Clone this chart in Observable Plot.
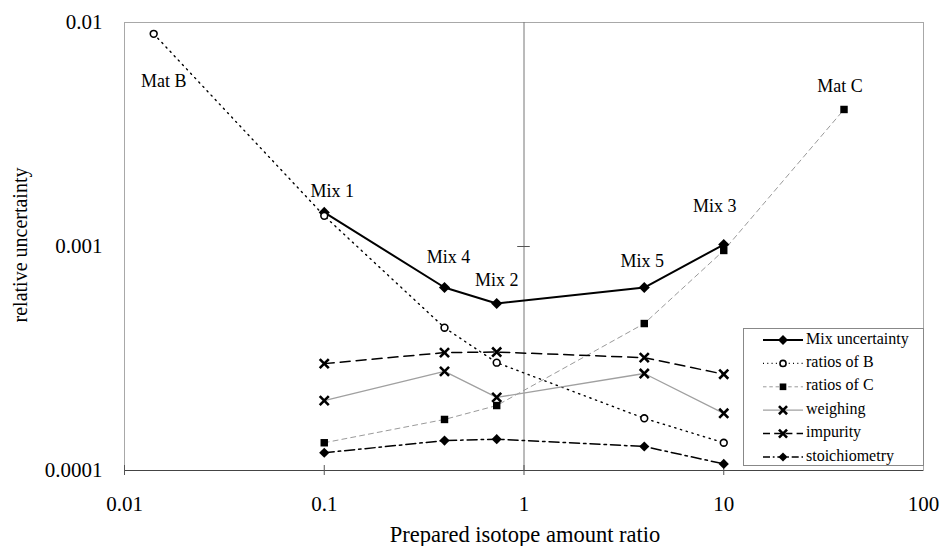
<!DOCTYPE html>
<html>
<head>
<meta charset="utf-8">
<script src="https://cdn.jsdelivr.net/npm/d3@7"></script>
<script src="https://cdn.jsdelivr.net/npm/@observablehq/plot@0.6"></script>
<style>
  html, body { margin: 0; padding: 0; background: #fff; }
  #chart { width: 942px; height: 546px; }
</style>
</head>
<body>
<div id="chart"></div>
<script>
// ---- data ----
const mixNames = ["Mix 1", "Mix 4", "Mix 2", "Mix 5", "Mix 3"];
const mixRatio = [0.1, 0.4, 0.73, 4, 10];
const matBRatio = 0.014;
const matCRatio = 40;

const mixUncertainty = [0.00142, 0.000656, 0.000557, 0.000656, 0.00102];
const ratiosB = [0.0089, 0.00137, 0.000434, 0.000303, 0.000171, 0.000133]; // Mat B + mixes
const ratiosC = [0.000133, 0.000169, 0.000195, 0.000453, 0.00096, 0.00409]; // mixes + Mat C
const weighing = [0.000205, 0.000277, 0.000212, 0.000271, 0.00018];
const impurity = [0.0003, 0.000336, 0.000338, 0.000319, 0.000269];
const stoichiometry = [0.00012, 0.000136, 0.000138, 0.000128, 0.000107];

const xTicks = [0.01, 0.1, 1, 10, 100];
const yTicks = [0.0001, 0.001, 0.01];

const seriesNames = ["Mix uncertainty", "ratios of B", "ratios of C", "weighing", "impurity", "stoichiometry"];

// ---- tables ----
const ratiosBX = [matBRatio, ...mixRatio];
const ratiosCX = [...mixRatio, matCRatio];
const toRows = (xs, ys) => xs.map((x, i) => ({x, y: ys[i]}));

const rowsMix = toRows(mixRatio, mixUncertainty);
const rowsB = toRows(ratiosBX, ratiosB);
const rowsC = toRows(ratiosCX, ratiosC);
const rowsW = toRows(mixRatio, weighing);
const rowsI = toRows(mixRatio, impurity);
const rowsS = toRows(mixRatio, stoichiometry);

const styles = [
  {stroke: "#000", width: 2, dash: null, symbol: "diamond2", fill: "#000", r: 5, sw: 0},
  {stroke: "#000", width: 1.4, dash: "1.3 4.7", symbol: "circle", fill: "#fff", r: 3.4, sw: 1.6},
  {stroke: "#9a9a9a", width: 1, dash: "5 4", symbol: "square", fill: "#000", r: 4.2, sw: 0},
  {stroke: "#a0a0a0", width: 1.3, dash: null, symbol: "times", fill: "none", r: 4.2, sw: 2.6},
  {stroke: "#000", width: 1.5, dash: "10 6", symbol: "times", fill: "none", r: 4.2, sw: 2.6},
  {stroke: "#000", width: 1.5, dash: "10 4 2.5 4", symbol: "diamond2", fill: "#000", r: 4.6, sw: 0}
];
const seriesRows = [rowsMix, rowsB, rowsC, rowsW, rowsI, rowsS];

// labels: name, anchor point, pixel offset
const pointLabels = [
  {text: "Mat B", x: matBRatio, y: ratiosB[0], dx: 10, dy: 47},
  {text: mixNames[0], x: mixRatio[0], y: mixUncertainty[0], dx: 8, dy: -21},
  {text: mixNames[1], x: mixRatio[1], y: mixUncertainty[1], dx: 4, dy: -30},
  {text: mixNames[2], x: mixRatio[2], y: mixUncertainty[2], dx: 0, dy: -23},
  {text: mixNames[3], x: mixRatio[3], y: mixUncertainty[3], dx: -2, dy: -26},
  {text: mixNames[4], x: mixRatio[4], y: mixUncertainty[4], dx: -9, dy: -38},
  {text: "Mat C", x: matCRatio, y: ratiosC[5], dx: -4, dy: -23}
];

const FONT = "Liberation Serif, Times New Roman, serif";

const marks = [
  Plot.frame({stroke: "#a8a8a8", strokeWidth: 1}),
  Plot.ruleY([yTicks[0]], {stroke: "#444", strokeWidth: 1.2}),
  Plot.ruleX([1], {stroke: "#777", strokeWidth: 1}),
  Plot.ruleY([0.001], {x1: 0.93, x2: 1.075, stroke: "#555", strokeWidth: 1}),
  Plot.ruleX(xTicks.slice(0, 4), {y1: yTicks[0], y2: yTicks[0], insetTop: -5, insetBottom: -5, stroke: "#555"}),
  Plot.axisX({ticks: xTicks, tickFormat: d => String(d), tickSize: 0, tickPadding: 26, fontSize: 21, label: null}),
  Plot.axisY({ticks: yTicks, tickFormat: d => String(d), tickSize: 0, tickPadding: 22, fontSize: 21, label: null}),
];

seriesRows.forEach((rows, k) => {
  const s = styles[k];
  marks.push(Plot.line(rows, {x: "x", y: "y", stroke: s.stroke, strokeWidth: s.width, strokeDasharray: s.dash}));
});
seriesRows.forEach((rows, k) => {
  const s = styles[k];
  marks.push(Plot.dot(rows, {x: "x", y: "y", symbol: s.symbol, r: s.r,
    fill: s.fill, stroke: s.sw ? "#000" : "none", strokeWidth: s.sw}));
});
pointLabels.forEach(l => {
  marks.push(Plot.text([l], {x: "x", y: "y", text: "text", dx: l.dx, dy: l.dy, fontSize: 18, fill: "#000"}));
});

const svg = Plot.plot({
  width: 942,
  height: 546,
  marginLeft: 124,
  marginRight: 19,
  marginTop: 22,
  marginBottom: 76,
  style: {fontFamily: FONT, color: "#000", background: "#fff"},
  x: {type: "log", domain: [0.01, 100]},
  y: {type: "log", domain: [0.0001, 0.01]},
  marks
});

// axis titles and legend
const g = d3.select(svg);
g.append("text").attr("x", 525).attr("y", 537).attr("text-anchor", "middle")
  .attr("dominant-baseline", "middle").attr("font-size", 22.5).attr("font-family", FONT)
  .text("Prepared isotope amount ratio");
g.append("text").attr("transform", "translate(22,245) rotate(-90)").attr("text-anchor", "middle")
  .attr("dominant-baseline", "middle").attr("font-size", 20).attr("font-family", FONT)
  .text("relative uncertainty");

const leg = g.append("g");
leg.append("rect").attr("x", 743.5).attr("y", 328.5).attr("width", 180).attr("height", 137)
  .attr("fill", "#fff").attr("stroke", "#888").attr("stroke-width", 1);
const symMap = {diamond2: d3.symbolDiamond2, circle: d3.symbolCircle, square: d3.symbolSquare, times: d3.symbolTimes};
seriesNames.forEach((name, k) => {
  const s = styles[k];
  const yy = 340 + k * 23.4;
  leg.append("line").attr("x1", 763).attr("x2", 803).attr("y1", yy).attr("y2", yy)
    .attr("stroke", s.stroke).attr("stroke-width", s.width)
    .attr("stroke-dasharray", s.dash ? s.dash.split(" ").map(v => Math.max(+v * 0.7, 1)).join(" ") : null);
  leg.append("path").attr("transform", `translate(783,${yy})`)
    .attr("d", d3.symbol(symMap[s.symbol], Math.PI * s.r * s.r * 0.8)())
    .attr("fill", s.fill).attr("stroke", s.sw ? "#000" : "none").attr("stroke-width", s.sw);
  leg.append("text").attr("x", 806).attr("y", yy).attr("dominant-baseline", "middle")
    .attr("text-anchor", "start")
    .attr("font-size", 16).attr("font-family", FONT).text(name);
});

document.getElementById("chart").appendChild(svg);
</script>
</body>
</html>
